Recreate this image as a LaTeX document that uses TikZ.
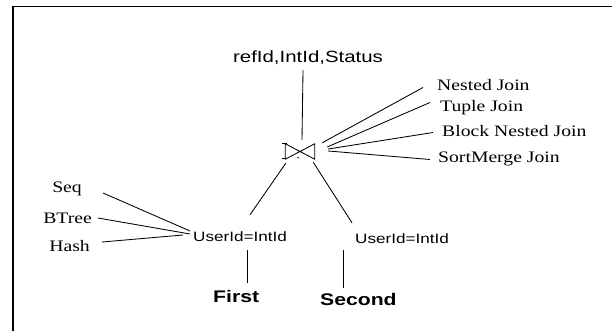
\documentclass[tikz,border=0pt]{standalone}
\usepackage{fontspec}
\newfontfamily\labsans[FakeStretch=1.26]{Liberation Sans}
\newfontfamily\labserif[FakeStretch=1.23]{Liberation Serif}
\begin{document}
\begin{tikzpicture}[x=1pt, y=-1pt,
  every node/.style={inner sep=0pt},
  method/.style={text height=10pt, text depth=3pt, font=\labserif\fontsize{16}{19}\selectfont},
  pred/.style={text height=10pt, text depth=3pt, font=\labsans\fontsize{13.6}{16}\selectfont},
  proj/.style={text height=11pt, text depth=3pt, font=\labsans\fontsize{16.2}{19}\selectfont},
  rel/.style={text height=12pt, text depth=0pt, font=\labsans\bfseries\fontsize{16.8}{20}\selectfont},
  link/.style={draw=black, line width=0.85pt},
  joinsym/.style={minimum width=29pt, minimum height=15pt}]
\useasboundingbox (0,0) rectangle (612,331);

% page frame: left and top rules only
\draw[line width=2pt] (13,331) -- (13,6.3);
\draw[line width=1.4pt] (12,6.3) -- (612,6.3);

% projection at the root
\node[proj, anchor=base] (title) at (308,63) {refId,IntId,Status};

% join operator
\node[joinsym] (join) at (300,151.5) {};
\draw[link] (join.north west) -- (join.south east) -- (join.north east)
  -- (join.south west) -- cycle;
\draw[line width=0.7pt] ([shift={(-3,0)}]join.north west) -- ([shift={(2,0)}]join.north west);
\draw[line width=0.7pt] ([shift={(-3,-1)}]join.south west) -- ([shift={(2,-1)}]join.south west);
\fill ([shift={(-2,-1.5)}]join.south) circle (0.8pt);

% join methods
\node[method, anchor=base west] (nj) at (437,91) {Nested Join};
\node[method, anchor=base west] (tj) at (440,112) {Tuple Join};
\node[method, anchor=base west] (bnj) at (442,137) {Block Nested Join};
\node[method, anchor=base west] (smj) at (438,163) {SortMerge Join};

% selections
\node[pred, anchor=base west] (selL) at (193,241) {UserId=IntId};
\node[pred, anchor=base west] (selR) at (355,243) {UserId=IntId};

% access methods
\node[method, anchor=base east] (seq) at (82,192) {Seq};
\node[method, anchor=base east] (btree) at (92,223) {BTree};
\node[method, anchor=base east] (hash) at (90,251) {Hash};

% base relations
\node[rel, anchor=base west] (first) at (213,302) {First};
\node[rel, anchor=base west] (second) at (320,305) {Second};

% tree edges
\draw[link] ([shift={(-5,4)}]title.south) -- ([shift={(2,-4)}]join.north);
\draw[link] ([shift={(0.5,4)}]join.south west) -- ([shift={(57,-16)}]selL.north west);
\draw[link] ([shift={(-1.5,3)}]join.south east) -- ([shift={(-3,-10)}]selR.north west);
\draw[link] ([shift={(54,6)}]selL.south west) -- ([shift={(34,-7)}]first.north west);
\draw[link] ([shift={(-12,4)}]selR.south west) -- ([shift={(23,-5)}]second.north west);

% join method annotations
\draw[link] ([shift={(7.5,-1)}]join.north east) -- ([shift={(-14,0)}]nj.west);
\draw[link] ([shift={(12.5,-4.5)}]join.east) -- ([shift={(-10,-6)}]tj.west);
\draw[link] ([shift={(13.5,-2.5)}]join.east) -- ([shift={(-9,-1)}]bnj.west);
\draw[link] ([shift={(13.5,-0.5)}]join.east) -- ([shift={(-8,0)}]smj.west);

% access method annotations
\draw[link] ([shift={(21,4.5)}]seq.east) -- ([shift={(-3,-6.5)}]selL.west);
\draw[link] ([shift={(6,-1.5)}]btree.east) -- ([shift={(-3,-3.5)}]selL.west);
\draw[link] ([shift={(12,-5.5)}]hash.east) -- ([shift={(-10,-2.5)}]selL.west);
\end{tikzpicture}
\end{document}
